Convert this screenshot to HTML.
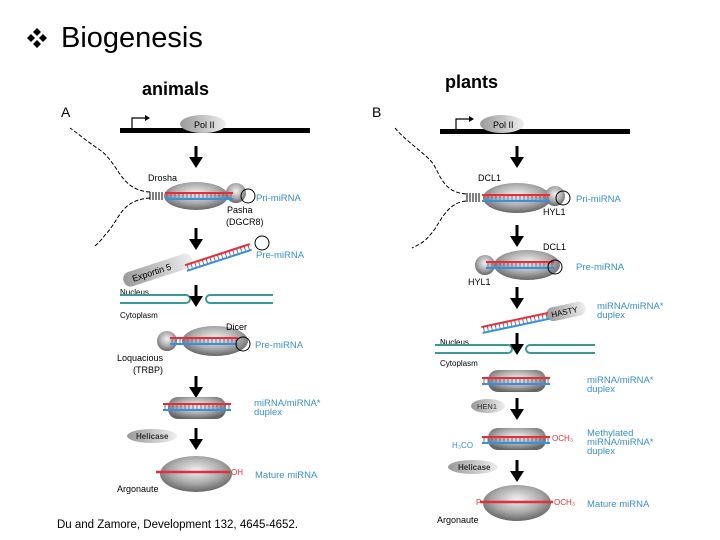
<!DOCTYPE html>
<html><head><meta charset="utf-8"><style>
body{margin:0;background:#fff;}
svg{display:block;font-family:"Liberation Sans",sans-serif;}
.l{font-size:9px;fill:#000}
.b{font-size:9.5px;fill:#3a8fc7}
</style></head><body>
<svg width="720" height="540" viewBox="0 0 720 540">
<defs>
<radialGradient id="g" cx="50%" cy="40%" r="60%"><stop offset="0" stop-color="#f2f2f2"/><stop offset="0.6" stop-color="#aaa"/><stop offset="1" stop-color="#666"/></radialGradient>
<linearGradient id="gl" x1="0" x2="1"><stop offset="0" stop-color="#999"/><stop offset="1" stop-color="#eee"/></linearGradient>
<g id="arr"><line x1="0" y1="0" x2="0" y2="13" stroke="#000" stroke-width="3"/><path d="M-7,11L7,11L0,22z" fill="#000"/></g>
<g id="stem"><line x1="0" y1="-3" x2="68" y2="-3" stroke="#e0303a" stroke-width="2"/><line x1="0" y1="3" x2="68" y2="3" stroke="#3a8fd8" stroke-width="2"/><path d="M2,-3V0M6,-3V0M10,-3V0M14,-3V0M18,-3V0M22,-3V0M26,-3V0M30,-3V0M34,-3V0M38,-3V0M42,-3V0M46,-3V0M50,-3V0M54,-3V0M58,-3V0M62,-3V0M66,-3V0" stroke="#e0303a" stroke-width="1"/><path d="M2,0V3M6,0V3M10,0V3M14,0V3M18,0V3M22,0V3M26,0V3M30,0V3M34,0V3M38,0V3M42,0V3M46,0V3M50,0V3M54,0V3M58,0V3M62,0V3M66,0V3" stroke="#3a8fd8" stroke-width="1"/></g>
</defs>

<g fill="#000"><path d="M37,28l4,4l-4,4l-4,-4z"/><path d="M37,40l4,4l-4,4l-4,-4z"/><path d="M31,34l4,4l-4,4l-4,-4z"/><path d="M43,34l4,4l-4,4l-4,-4z"/></g>
<text x="61" y="47" font-size="29" fill="#000">Biogenesis</text>
<text x="142" y="95" font-size="18" font-weight="bold">animals</text>
<text x="445" y="88" font-size="18" font-weight="bold">plants</text>

<!-- Panel A -->
<text x="61" y="117" font-size="14">A</text>
<rect x="120" y="128" width="190" height="5" fill="#000"/>
<path d="M132,128V118H146" fill="none" stroke="#000" stroke-width="1.2"/><path d="M145,115L150,118L145,121z"/>
<ellipse cx="203" cy="124" rx="23" ry="9" fill="url(#gl)"/><text x="194" y="128" class="l">Pol II</text>
<use href="#arr" x="196" y="146"/>
<path d="M150,192 C120,190 120,165 100,150 C85,140 80,135 70,128" fill="none" stroke="#000" stroke-dasharray="4,2"/>
<path d="M150,198 C120,200 120,220 105,235 C100,242 97,244 95,246" fill="none" stroke="#000" stroke-dasharray="4,2"/>
<path d="M150,192V200M153,192V200M156,192V200M159,192V200M162,192V200" stroke="#000"/>
<ellipse cx="196" cy="196" rx="32" ry="14" fill="url(#g)"/>
<circle cx="236" cy="193" r="10" fill="url(#g)"/>
<use href="#stem" x="165" y="196"/>
<circle cx="248" cy="196" r="7" fill="none" stroke="#000"/>
<text x="148" y="181" class="l">Drosha</text>
<text x="256" y="201" class="b">Pri-miRNA</text>
<text x="227" y="213" class="l">Pasha</text><text x="226" y="225" class="l">(DGCR8)</text>
<use href="#arr" x="196" y="228"/>
<g transform="rotate(-18 160 270)"><rect x="122" y="262" width="72" height="15" rx="7" fill="url(#gl)"/><text x="131" y="273" class="l">Exportin 5</text></g>
<g transform="translate(186,268) rotate(-18)"><use href="#stem"/></g>
<circle cx="262" cy="243" r="7" fill="none" stroke="#000"/>
<text x="256" y="258" class="b">Pre-miRNA</text>
<text x="120" y="295" font-size="8">Nucleus</text>
<path d="M120,295H186a4,4 0 0 1 0,8H120M273,295H210a4,4 0 0 0 0,8H273" fill="none" stroke="#3a9a98" stroke-width="2"/>
<text x="120" y="318" font-size="8">Cytoplasm</text>
<use href="#arr" x="196" y="285"/>
<ellipse cx="215" cy="341" rx="33" ry="15" fill="url(#g)"/>
<circle cx="167" cy="341" r="10" fill="url(#g)"/>
<use href="#stem" x="170" y="341"/>
<circle cx="243" cy="344" r="7" fill="none" stroke="#000"/>
<text x="226" y="330" class="l">Dicer</text>
<text x="255" y="348" class="b">Pre-miRNA</text>
<text x="117" y="361" class="l">Loquacious</text><text x="133" y="373" class="l">(TRBP)</text>
<use href="#arr" x="196" y="376"/>
<rect x="168" y="397" width="58" height="22" rx="10" fill="url(#g)"/>
<use href="#stem" x="163" y="407"/>
<text x="254" y="406" class="b">miRNA/miRNA*</text><text x="254" y="415" class="b">duplex</text>
<ellipse cx="152" cy="436" rx="25" ry="7" fill="url(#gl)"/><text x="136" y="439" font-size="8" font-weight="bold" fill="#333">Helicase</text>
<use href="#arr" x="196" y="428"/>
<ellipse cx="196" cy="474" rx="36" ry="18" fill="url(#g)"/>
<line x1="156" y1="472" x2="230" y2="472" stroke="#e0303a" stroke-width="2.5"/>
<text x="231" y="475" font-size="8" fill="#e0303a">OH</text>
<text x="255" y="478" class="b">Mature miRNA</text>
<text x="117" y="492" class="l">Argonaute</text>
<text x="57" y="528" font-size="11.5">Du and Zamore, Development 132, 4645-4652.</text>

<!-- Panel B -->
<text x="372" y="117" font-size="14">B</text>
<rect x="440" y="129" width="190" height="5" fill="#000"/>
<path d="M456,129V119H470" fill="none" stroke="#000" stroke-width="1.2"/><path d="M469,116L474,119L469,122z"/>
<ellipse cx="502" cy="124" rx="22" ry="9" fill="url(#gl)"/><text x="493" y="128" class="l">Pol II</text>
<use href="#arr" x="517" y="146"/>
<path d="M466,194 C440,192 440,170 430,160 C420,150 405,140 395,128" fill="none" stroke="#000" stroke-dasharray="4,2"/>
<path d="M466,201 C445,203 440,225 430,235 C425,242 418,245 412,248" fill="none" stroke="#000" stroke-dasharray="4,2"/>
<path d="M467,193V202M470,193V202M473,193V202M476,193V202M479,193V202" stroke="#000"/>
<ellipse cx="517" cy="198" rx="34" ry="15" fill="url(#g)"/>
<circle cx="555" cy="196" r="10" fill="url(#g)"/>
<use href="#stem" x="482" y="198"/>
<circle cx="563" cy="198" r="7" fill="none" stroke="#000"/>
<text x="478" y="181" class="l">DCL1</text>
<text x="576" y="202" class="b">Pri-miRNA</text>
<text x="543" y="215" class="l">HYL1</text>
<use href="#arr" x="517" y="225"/>
<ellipse cx="527" cy="265" rx="33" ry="15" fill="url(#g)"/>
<circle cx="485" cy="265" r="10" fill="url(#g)"/>
<use href="#stem" x="486" y="265"/>
<circle cx="555" cy="267" r="7" fill="none" stroke="#000"/>
<text x="543" y="250" class="l">DCL1</text>
<text x="576" y="270" class="b">Pre-miRNA</text>
<text x="468" y="285" class="l">HYL1</text>
<use href="#arr" x="517" y="287"/>
<g transform="rotate(-12 568 311)"><rect x="546" y="304" width="40" height="14" rx="7" fill="url(#gl)"/><text x="551" y="314" font-size="8">HASTY</text></g>
<g transform="translate(482,330) rotate(-12)"><use href="#stem"/></g>
<text x="597" y="309" class="b">miRNA/miRNA*</text><text x="597" y="318" class="b">duplex</text>
<text x="440" y="345" font-size="8">Nucleus</text>
<path d="M435,345H508a4,4 0 0 1 0,8H435M595,345H530a4,4 0 0 0 0,8H595" fill="none" stroke="#3a9a98" stroke-width="2"/>
<text x="440" y="366" font-size="8">Cytoplasm</text>
<use href="#arr" x="517" y="333"/>
<rect x="488" y="370" width="58" height="22" rx="10" fill="url(#g)"/>
<use href="#stem" x="482" y="381"/>
<text x="587" y="383" class="b">miRNA/miRNA*</text><text x="587" y="392" class="b">duplex</text>
<ellipse cx="488" cy="406" rx="17" ry="7" fill="url(#gl)"/><text x="477" y="409" font-size="7.5" fill="#333">HEN1</text>
<use href="#arr" x="517" y="398"/>
<rect x="488" y="428" width="58" height="22" rx="10" fill="url(#g)"/>
<use href="#stem" x="482" y="440"/>
<text x="452" y="448" font-size="8" fill="#3a8fc7">H₃CO</text>
<text x="552" y="441" font-size="8" fill="#e0303a">OCH₃</text>
<text x="587" y="436" class="b">Methylated</text><text x="587" y="445" class="b">miRNA/miRNA*</text><text x="587" y="454" class="b">duplex</text>
<ellipse cx="473" cy="467" rx="25" ry="7" fill="url(#gl)"/><text x="458" y="470" font-size="8" font-weight="bold" fill="#333">Helicase</text>
<use href="#arr" x="517" y="460"/>
<ellipse cx="517" cy="503" rx="34" ry="18" fill="url(#g)"/>
<line x1="480" y1="502" x2="553" y2="502" stroke="#e0303a" stroke-width="2.5"/>
<text x="476" y="505" font-size="8" fill="#e0303a">P</text>
<text x="554" y="505" font-size="8" fill="#e0303a">OCH₃</text>
<text x="587" y="507" class="b">Mature miRNA</text>
<text x="437" y="523" class="l">Argonaute</text>
</svg>
</body></html>
